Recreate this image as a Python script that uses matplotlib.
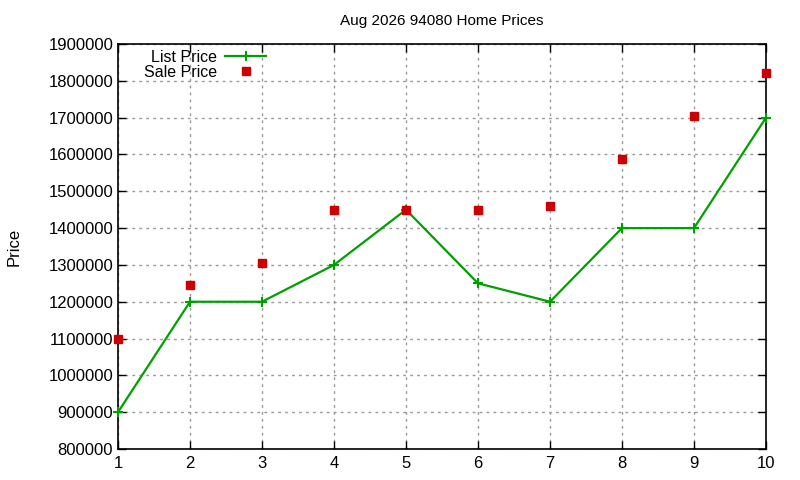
import numpy as np
import matplotlib
matplotlib.use("Agg")
import matplotlib.pyplot as plt
from matplotlib.ticker import MultipleLocator, FuncFormatter

plt.rcParams["font.family"] = ["Liberation Sans", "DejaVu Sans"]

months = [1, 2, 3, 4, 5, 6, 7, 8, 9, 10]
list_price = [900000, 1200000, 1200000, 1300000, 1450000, 1250000, 1200000, 1400000, 1400000, 1700000]
sale_price = [1100000, 1245000, 1305000, 1450000, 1450000, 1450000, 1460000, 1588000, 1704000, 1822000]

fig = plt.figure(figsize=(8, 4.8), dpi=100)
ax = fig.add_axes([0.1475, 0.0646, 0.81, 0.8437])

ax.plot(months, list_price, color="#00a000", lw=1.6, marker="+", ms=7, mew=1.5,
        label="List Price", zorder=3, clip_on=False)
ax.plot(months, sale_price, ls="none", color="#cc0000", marker="s", ms=6,
        label="Sale Price", zorder=4, clip_on=False)

ax.set_xlim(1, 10)
ax.set_ylim(800000, 1900000)
ax.xaxis.set_major_locator(MultipleLocator(1))
ax.yaxis.set_major_locator(MultipleLocator(100000))
ax.yaxis.set_major_formatter(FuncFormatter(lambda v, p: f"{int(v)}"))
ax.tick_params(direction="in", length=6, width=1, top=True, right=True, labelsize=12)
ax.tick_params(axis="x", pad=5)
ax.grid(True, color="#999999", ls=(0, (2, 3)), lw=1)
for s in ax.spines.values():
    s.set_linewidth(1.2)

ax.set_title("Aug 2026 94080 Home Prices", fontsize=11, pad=14)
ax.set_ylabel("Price", fontsize=12)
ax.yaxis.set_label_coords(-0.148, 0.5)

ax.legend(loc="upper left", bbox_to_anchor=(0.03, 1.002), frameon=False, markerfirst=False,
          fontsize=11.5, handlelength=2.6, handletextpad=0.5, labelspacing=0.0,
          borderaxespad=0.0)

fig.savefig("out.png")
